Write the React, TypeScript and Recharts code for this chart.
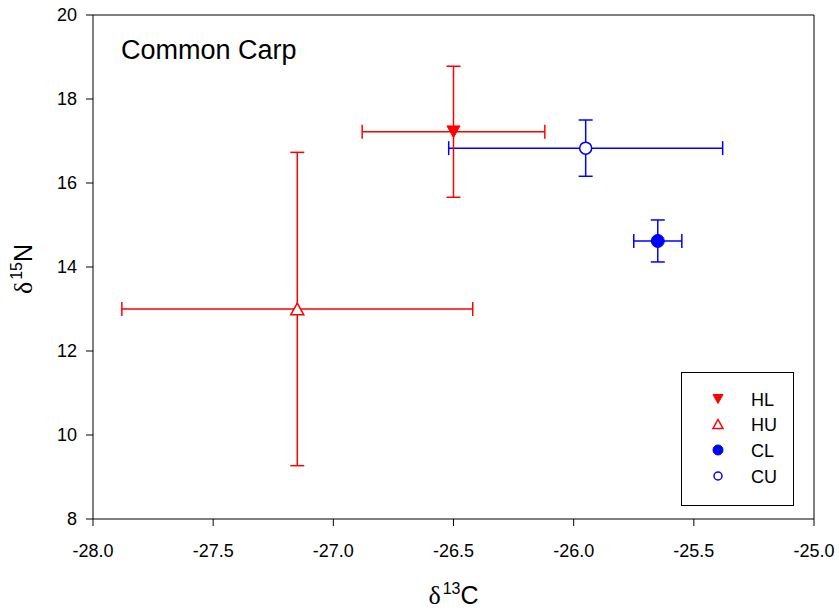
import React from 'react';
import { ScatterChart, Scatter, XAxis, YAxis, ErrorBar, ReferenceLine } from 'recharts';

const groups = ['HL', 'HU', 'CL', 'CU'];
const colors = ['#ff0000', '#ff0000', '#0000ff', '#0000ff'];
const d13C = [-26.5, -27.15, -25.65, -25.95];
const d13CErr = [0.38, 0.73, 0.1, 0.57];
const d15N = [17.22, 13.0, 14.62, 16.83];
const d15NErr = [1.56, 3.73, 0.5, 0.67];
const xTicks = [-28, -27.5, -27, -26.5, -26, -25.5, -25];
const yTicks = [8, 10, 12, 14, 16, 18, 20];

const FONT = '"Liberation Sans", Arial, sans-serif';
const SERIF = '"Liberation Serif", "Times New Roman", serif';

function Marker({ kind, cx, cy, s }: { kind: string; cx: number; cy: number; s: number }) {
  const red = '#ff0000';
  const blue = '#0000ff';
  if (kind === 'HL') {
    const h = s * 0.9;
    return <polygon points={`${cx - s / 2},${cy - h / 2} ${cx + s / 2},${cy - h / 2} ${cx},${cy + h / 2}`} fill={red} stroke={red} strokeWidth={1} />;
  }
  if (kind === 'HU') {
    const h = s * 0.9;
    return <polygon points={`${cx - s / 2},${cy + h / 2} ${cx + s / 2},${cy + h / 2} ${cx},${cy - h / 2}`} fill="#fff" stroke={red} strokeWidth={1.5} />;
  }
  if (kind === 'CL') {
    return <circle cx={cx} cy={cy} r={s / 2} fill={blue} stroke={blue} />;
  }
  return <circle cx={cx} cy={cy} r={s / 2 - 0.5} fill="#fff" stroke={blue} strokeWidth={1.5} />;
}

const rows = groups.map((g, i) => ({ name: g, x: d13C[i], y: d15N[i], ex: d13CErr[i], ey: d15NErr[i] }));
// draw order: blue first, red on top
const order = [3, 2, 1, 0];

function LegendBox({ x, y }: { x: number; y: number }) {
  const ys = [27, 52, 78, 104];
  return (
    <g transform={`translate(${x},${y})`}>
      <rect x={0.5} y={0.5} width={112} height={133} fill="#fff" stroke="#000" strokeWidth={1} />
      {groups.map((g, i) => (
        <g key={g}>
          <Marker kind={g} cx={37} cy={ys[i]} s={i === 3 ? 9 : 10} />
          <text x={70} y={ys[i] + 6.5} fontSize={18} fontFamily={FONT} fill="#000">{g}</text>
        </g>
      ))}
    </g>
  );
}

function XLabel(props: any) {
  const vb = props.viewBox || {};
  const cx = vb.x + vb.width / 2;
  return (
    <text x={cx} y={604} textAnchor="middle" fill="#000" fontFamily={FONT} fontSize={25}>
      <tspan fontFamily={SERIF} fontSize={26}>δ</tspan>
      <tspan fontSize={16} dx={2} dy={-10}>13</tspan>
      <tspan dy={10}>C</tspan>
    </text>
  );
}

function YLabel(props: any) {
  const vb = props.viewBox || {};
  const cy = vb.y + vb.height / 2 + 2;
  const bx = 32;
  return (
    <text x={bx} y={cy} transform={`rotate(-90, ${bx}, ${cy})`} textAnchor="middle" fill="#000" fontFamily={FONT} fontSize={25}>
      <tspan fontFamily={SERIF} fontSize={26}>δ</tspan>
      <tspan fontSize={16} dx={2} dy={-10}>15</tspan>
      <tspan dy={10}>N</tspan>
    </text>
  );
}

export default function App() {
  return (
    <div style={{ position: 'absolute', left: 0, top: 0, width: 839, height: 615, background: '#fff', fontFamily: FONT }}>
      <ScatterChart width={839} height={615} margin={{ top: 15, right: 25, bottom: 36, left: 33 }}>
        <XAxis
          type="number"
          dataKey="x"
          domain={[-28, -25]}
          ticks={xTicks}
          allowDataOverflow
          tickFormatter={(v: number) => v.toFixed(1)}
          height={60}
          tickSize={7}
          tickMargin={18}
          stroke="#000"
          tick={{ fill: '#000', fontSize: 18, fontFamily: FONT }}
          label={<XLabel />}
        />
        <YAxis
          type="number"
          dataKey="y"
          domain={[8, 20]}
          ticks={yTicks}
          allowDataOverflow
          width={60}
          tickSize={7}
          tickMargin={9}
          stroke="#000"
          tick={{ fill: '#000', fontSize: 18, fontFamily: FONT }}
          label={<YLabel />}
        />
        <ReferenceLine y={20} stroke="#000" strokeWidth={1} />
        <ReferenceLine x={-25} stroke="#000" strokeWidth={1} />
        {order.map((i) => (
          <Scatter
            key={groups[i]}
            name={groups[i]}
            data={[rows[i]]}
            fill={colors[i]}
            isAnimationActive={false}
            shape={(p: any) => <Marker kind={groups[i]} cx={p.cx} cy={p.cy} s={13} />}
          >
            <ErrorBar dataKey="ex" direction="x" width={7} stroke={colors[i]} strokeWidth={1.5} />
            <ErrorBar dataKey="ey" direction="y" width={7} stroke={colors[i]} strokeWidth={1.5} />
          </Scatter>
        ))}
        <text x={121} y={59} fontSize={27} fontFamily={FONT} fill="#000">Common Carp</text>
        <LegendBox x={681} y={372} />
      </ScatterChart>
    </div>
  );
}
